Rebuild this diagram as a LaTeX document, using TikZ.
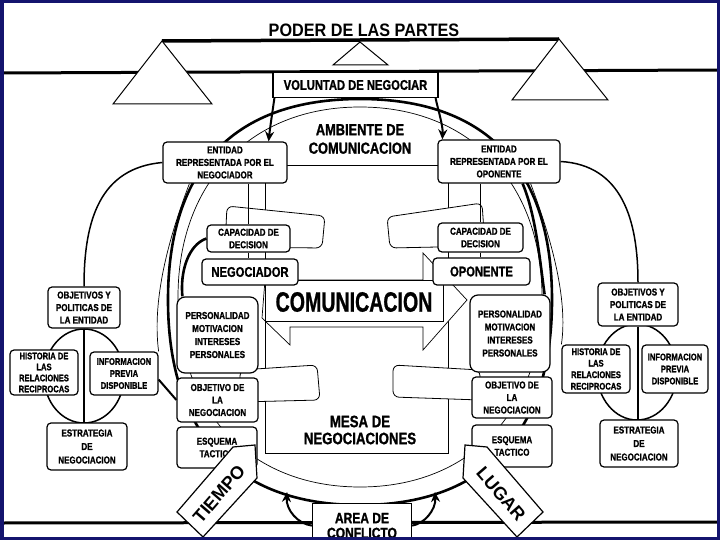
\documentclass[tikz,border=0pt]{standalone}
\usepackage{fontspec}
\setmainfont{Liberation Sans}
\newfontfamily\condfont[FakeStretch=0.8, BoldFeatures={FakeBold=1.2}]{Liberation Sans}
\newfontfamily\narrowfont[FakeStretch=0.7, BoldFeatures={FakeBold=0.8}]{Liberation Sans}
\newfontfamily\titlefont[FakeStretch=0.9]{Liberation Sans}
\usepackage{tikz}
\usepackage{xcolor}
\usetikzlibrary{arrows.meta}
\definecolor{frameblue}{RGB}{20,20,110}

\begin{document}
\begin{tikzpicture}[x=1pt, y=-1pt,
                box/.style={draw, line width=1.2pt, rounded corners=4pt, fill=white, align=center, inner sep=0pt, font=\condfont\bfseries\fontsize{10}{12.5}\selectfont},
                big/.style={align=center, font=\condfont\bfseries\fontsize{16}{18.5}\selectfont},
                tag/.style={draw, line width=1.2pt, fill=white},
                tab/.style={draw, line width=0.8pt, fill=white, rounded corners=6pt},
                thin/.style={line width=0.7pt},
                link/.style={line width=1.2pt},
                heavy/.style={line width=2.6pt},
                pointer/.style={line width=2pt, -{Stealth[length=10pt, width=9pt]}}]
                \fill[white] (0,0) rectangle (720,540);
                \useasboundingbox (0,0) rectangle (720,540);

                \draw[line width=3.5pt] (162,41) -- (559,39);
                \draw[line width=3pt] (2,73) -- (718,70);
                \draw[line width=3pt] (2,523) -- (718,522);
                \draw[tag, line width=1pt] (113,104) -- (162,41) -- (212,104) -- cycle;
                \draw[tag, line width=1pt] (512,100) -- (559,39) -- (608,100) -- cycle;
                \draw[tag, line width=1pt] (333,65) -- (360,42) -- (388,65) -- cycle;
                \node[font=\titlefont\bfseries\fontsize{18}{20}\selectfont] (title) at (364,30) {PODER DE LAS PARTES};

                \draw[heavy] (360,99) .. controls (485,99) and (552,167) .. (552,300) .. controls (552,433) and (485,505) .. (360,505) .. controls (235,505) and (168,433) .. (168,300) .. controls (168,167) and (235,99) .. cycle;
                \draw[thin] (360,107) .. controls (470,107) and (542,183) .. (542,297) .. controls (542,411) and (470,487) .. (360,487) .. controls (250,487) and (178,411) .. (178,297) .. controls (178,183) and (250,107) .. cycle;
                \draw[line width=1.5pt] (84,376) ellipse [x radius=40, y radius=47];
                \draw[line width=1.5pt] (637,372) ellipse [x radius=40, y radius=48];

                \draw[thin] (265,165) rectangle (448,453);
                \draw[tab] (227,206) -- (325,216) -- (322,248) -- (225,247) -- cycle;
                \draw[tab] (387,217) -- (482,203) -- (485,246) -- (390,248) -- cycle;
                \draw[tab] (240,370) -- (317,365) -- (320,400) -- (240,402) -- cycle;
                \draw[tab] (393,365) -- (480,370) -- (480,400) -- (393,397) -- cycle;
                \draw[thin, fill=white] (265,280) -- (423,280) -- (423,253) -- (467,300) -- (423,350) -- (423,327) -- (290,327) -- (290,345) -- (262,318) -- cycle;
                \draw[thin] (265,280) rectangle (443,321);
                \node[font=\narrowfont\bfseries\fontsize{28}{30}\selectfont] (com) at (354,302) {COMUNICACION};
                \node[big] (amb) at (360,139) {AMBIENTE DE\\COMUNICACION};
                \node[big, font=\condfont\bfseries\fontsize{16.5}{17}\selectfont] (mesa) at (360,430) {MESA DE\\NEGOCIACIONES};

                \node[draw, fill=white, line width=1.2pt, minimum width=165pt, minimum height=25pt, inner sep=0pt, font=\condfont\bfseries\fontsize{14}{16}\selectfont] (vol) at (355.5,85) {VOLUNTAD DE NEGOCIAR};
                \node[box, minimum width=124pt, minimum height=41pt] (ent1) at (225,162.5) {ENTIDAD\\REPRESENTADA POR EL\\NEGOCIADOR};
                \node[box, minimum width=122pt, minimum height=43pt] (ent2) at (499,161.5) {ENTIDAD\\REPRESENTADA POR EL\\OPONENTE};
                \node[box, minimum width=83pt, minimum height=27pt] (cap1) at (248.5,238.5) {CAPACIDAD DE\\DECISION};
                \node[box, minimum width=85pt, minimum height=29pt] (cap2) at (480.5,237.5) {CAPACIDAD DE\\DECISION};
                \node[box, minimum width=96pt, minimum height=26pt, font=\condfont\bfseries\fontsize{14}{16}\selectfont] (neg) at (250,272) {NEGOCIADOR};
                \node[box, minimum width=97pt, minimum height=27pt, font=\condfont\bfseries\fontsize{14}{16}\selectfont] (opo) at (481.5,271.5) {OPONENTE};
                \node[box, minimum width=81pt, minimum height=76pt, rounded corners=8pt, font=\condfont\bfseries\fontsize{10}{13}\selectfont] (per1) at (217.5,335) {PERSONALIDAD\\MOTIVACION\\INTERESES\\PERSONALES};
                \node[box, minimum width=80pt, minimum height=77pt, rounded corners=8pt, font=\condfont\bfseries\fontsize{10}{13}\selectfont] (per2) at (510,333.5) {PERSONALIDAD\\MOTIVACION\\INTERESES\\PERSONALES};
                \node[box, minimum width=81pt, minimum height=44pt] (obj1) at (217.5,400) {OBJETIVO DE\\LA\\NEGOCIACION};
                \node[box, minimum width=80pt, minimum height=41pt] (obj2) at (512,397.5) {OBJETIVO DE\\LA\\NEGOCIACION};
                \node[box, minimum width=80pt, minimum height=41pt] (esq1) at (217,447.5) {ESQUEMA\\TACTICO};
                \node[box, minimum width=80pt, minimum height=42pt] (esq2) at (512,446) {ESQUEMA\\TACTICO};
                \node[box, minimum width=72pt, minimum height=41pt] (pol1) at (84,307.5) {OBJETIVOS Y\\POLITICAS DE\\LA ENTIDAD};
                \node[box, minimum width=80pt, minimum height=43pt] (pol2) at (638,304.5) {OBJETIVOS Y\\POLITICAS DE\\LA ENTIDAD};
                \node[box, minimum width=68pt, minimum height=45pt, font=\condfont\bfseries\fontsize{9.5}{11}\selectfont] (his1) at (44,372.5) {HISTORIA DE\\LAS\\RELACIONES\\RECIPROCAS};
                \node[box, minimum width=68pt, minimum height=43pt, font=\condfont\bfseries\fontsize{9.5}{12}\selectfont] (inf1) at (124,373.5) {INFORMACION\\PREVIA\\DISPONIBLE};
                \node[box, minimum width=68pt, minimum height=48pt, font=\condfont\bfseries\fontsize{9.5}{11.5}\selectfont] (his2) at (596,369) {HISTORIA DE\\LAS\\RELACIONES\\RECIPROCAS};
                \node[box, minimum width=66pt, minimum height=48pt, font=\condfont\bfseries\fontsize{9.5}{12}\selectfont] (inf2) at (675,369) {INFORMACION\\PREVIA\\DISPONIBLE};
                \node[box, minimum width=80pt, minimum height=47pt, font=\condfont\bfseries\fontsize{10}{13.5}\selectfont] (est1) at (87,446.5) {ESTRATEGIA\\DE\\NEGOCIACION};
                \node[box, minimum width=78pt, minimum height=47pt, font=\condfont\bfseries\fontsize{10}{13.5}\selectfont] (est2) at (639,443.5) {ESTRATEGIA\\DE\\NEGOCIACION};

                \draw[link] (cap1.north) -- (cap1.north |- ent1.south);
                \draw[link] (cap2.north) -- (cap2.north |- ent2.south);
                \draw[link] (cap1.south) -- (cap1.south |- neg.north);
                \draw[link] (cap2.south) -- (cap2.south |- opo.north);
                \draw[link] (pol1.south) -- (pol1.south |- est1.north);
                \draw[link] (pol2.south) -- (pol2.south |- est2.north);
                \draw[line width=1.5pt] (ent1.west) .. controls (100,168) and (84,220) .. (pol1.north);
                \draw[line width=1.5pt] (ent2.east) .. controls (622,165) and (638,220) .. (pol2.north);
                \draw[thin] ([xshift=27pt]ent1.south west) .. controls (168,240) and (152,300) .. (inf1.north east);
                \draw[thin] ([xshift=-30pt]ent2.south east) .. controls (552,240) and (568,300) .. (his2.north west);
                \draw[heavy] (cap1.west) .. controls (188,245) and (180,272) .. ([xshift=6pt]per1.north west);
                \draw[heavy] ([xshift=-38pt]ent2.south east) .. controls (536,215) and (540,262) .. ([xshift=-6pt]per2.north east);
                \draw[line width=2pt] ([yshift=-6pt]inf1.east) -- (obj1.west);
                \draw[pointer] ([xshift=2pt]vol.south west) .. controls (272,115) and (270,128) .. ([xshift=-19pt]ent1.north east);
                \draw[pointer] ([xshift=-3pt]vol.south east) .. controls (438,110) and (443,125) .. ([xshift=5pt]ent2.north west);

                \draw[tag] (177,512) -- (233,447) -- (255,445) -- (257,478) -- (203,537) -- cycle;
                \node[rotate=49, font=\bfseries\fontsize{18}{20}\selectfont] (tiempo) at (219,494) {TIEMPO};
                \draw[tag] (543,512) -- (487,447) -- (465,445) -- (463,478) -- (517,537) -- cycle;
                \node[rotate=-49, font=\bfseries\fontsize{18}{20}\selectfont] (lugar) at (501,494) {LUGAR};
                \node[draw, fill=white, line width=1.2pt, minimum width=99pt, minimum height=44pt, inner sep=0pt, align=center, anchor=north, font=\condfont\bfseries\fontsize{15}{15}\selectfont] (area) at (362,503) {AREA DE\\CONFLICTO};
                \coordinate (a1) at (287,492);
                \coordinate (a2) at (435,492);
                \draw[pointer] (area.west) .. controls (298,524) and (286,510) .. (a1);
                \draw[pointer] (area.east) .. controls (424,524) and (436,510) .. (a2);

                \draw[frameblue, line width=7pt] (0,0) rectangle (720,540);
            \end{tikzpicture}
\end{document}
